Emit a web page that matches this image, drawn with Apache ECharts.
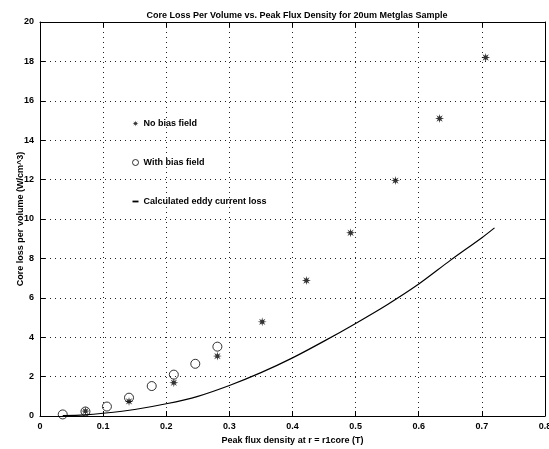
<!DOCTYPE html>
<html>
<head>
<meta charset="utf-8">
<script src="https://cdn.jsdelivr.net/npm/echarts@6/dist/echarts.min.js"></script>
<style>
  html, body { margin: 0; padding: 0; background: #fff; }
  #chart { width: 549px; height: 449px; }
</style>
</head>
<body>
<div id="chart"></div>
<script>
  // data
  var noBiasB = [0.072, 0.141, 0.212, 0.281, 0.352, 0.422, 0.492, 0.563, 0.633, 0.706];
  var noBiasLoss = [0.25, 0.74, 1.69, 3.04, 4.78, 6.88, 9.3, 11.95, 15.1, 18.2];

  var biasB = [0.036, 0.072, 0.106, 0.141, 0.177, 0.212, 0.246, 0.281];
  var biasLoss = [0.08, 0.23, 0.48, 0.93, 1.52, 2.1, 2.65, 3.52];

  var eddyB = [0.036, 0.07, 0.1, 0.15, 0.2, 0.25, 0.3, 0.35, 0.4, 0.45, 0.5, 0.55, 0.6, 0.65, 0.7, 0.72];
  var eddyLoss = [0.02, 0.06, 0.14, 0.33, 0.62, 1.0, 1.55, 2.2, 2.95, 3.8, 4.7, 5.65, 6.7, 7.9, 9.05, 9.55];

  var xTicks = [0, 0.1, 0.2, 0.3, 0.4, 0.5, 0.6, 0.7, 0.8];
  var yTicks = [0, 2, 4, 6, 8, 10, 12, 14, 16, 18, 20];

  function pairs(xs, ys) {
    var out = [];
    for (var i = 0; i < xs.length; i++) out.push([xs[i], ys[i]]);
    return out;
  }

  var starPath = 'path://M20 10 L13.7 11.53 L17.07 17.07 L11.53 13.7 L10 20 L8.47 13.7 L2.93 17.07 L6.3 11.53 L0 10 L6.3 8.47 L2.93 2.93 L8.47 6.3 L10 0 L11.53 6.3 L17.07 2.93 L13.7 8.47 Z';
  var dashPath = 'path://M0 0 H10 V3 H0 Z';
  var font = 'Liberation Sans';
  var gridLine = { show: true, lineStyle: { color: '#222', type: [1, 4], width: 1 } };

  var myChart = echarts.init(document.getElementById('chart'));

  myChart.setOption({
    animation: false,
    backgroundColor: '#fff',
    title: {
      text: 'Core Loss Per Volume vs. Peak Flux Density for 20um Metglas Sample',
      left: 292,
      textAlign: 'center',
      top: 6,
      textStyle: { fontFamily: font, fontSize: 9, fontWeight: 'bold', color: '#000' }
    },
    legend: {
      orient: 'vertical',
      left: 127,
      top: 114,
      itemGap: 30,
      itemWidth: 6,
      itemHeight: 6,
      textStyle: { fontFamily: font, fontSize: 9, fontWeight: 'bold', color: '#000' },
      data: [
        { name: 'No bias field', icon: starPath, itemStyle: { color: '#000' } },
        { name: 'With bias field', icon: 'circle', itemStyle: { color: '#fff', borderColor: '#000', borderWidth: 1 } },
        { name: 'Calculated eddy current loss', icon: dashPath, itemStyle: { color: '#000' } }
      ]
    },
    grid: { left: 40, right: 4, top: 22, bottom: 33, outerBoundsMode: 'none' },
    xAxis: [{
      type: 'value',
      min: 0, max: 0.8, interval: 0.1,
      name: 'Peak flux density at r = r1core (T)',
      nameLocation: 'middle',
      nameGap: 20,
      nameMoveOverlap: false,
      nameTextStyle: { fontFamily: font, fontSize: 9, fontWeight: 'bold', color: '#000' },
      axisLine: { onZero: false, lineStyle: { color: '#000' } },
      axisTick: { inside: true, length: 5, lineStyle: { color: '#000' } },
      axisLabel: {
        fontFamily: font, fontSize: 9, fontWeight: 'bold', color: '#000', margin: 6,
        formatter: function (v) { return String(Math.round(v * 10) / 10); }
      },
      splitLine: gridLine
    }, {
      type: 'value', position: 'top',
      min: 0, max: 0.8, interval: 0.1,
      axisLine: { show: true, onZero: false, lineStyle: { color: '#000' } },
      axisTick: { inside: true, length: 5, lineStyle: { color: '#000' } },
      axisLabel: { show: false },
      splitLine: { show: false }
    }],
    yAxis: [{
      type: 'value',
      min: 0, max: 20, interval: 2,
      name: 'Core loss per volume (W/cm^3)',
      nameLocation: 'middle',
      nameGap: 15,
      nameMoveOverlap: false,
      nameTextStyle: { fontFamily: font, fontSize: 9, fontWeight: 'bold', color: '#000' },
      axisLine: { show: true, onZero: false, lineStyle: { color: '#000' } },
      axisTick: { inside: true, length: 5, lineStyle: { color: '#000' } },
      axisLabel: { fontFamily: font, fontSize: 9, fontWeight: 'bold', color: '#000', margin: 6 },
      splitLine: gridLine
    }, {
      type: 'value', position: 'right',
      min: 0, max: 20, interval: 2,
      axisLine: { show: true, onZero: false, lineStyle: { color: '#000' } },
      axisTick: { inside: true, length: 5, lineStyle: { color: '#000' } },
      axisLabel: { show: false },
      splitLine: { show: false }
    }],
    series: [
      {
        name: 'No bias field',
        type: 'scatter',
        symbol: starPath,
        symbolSize: 9,
        itemStyle: { color: '#000' },
        data: pairs(noBiasB, noBiasLoss)
      },
      {
        name: 'With bias field',
        type: 'scatter',
        symbol: 'circle',
        symbolSize: 9,
        itemStyle: { color: 'rgba(255,255,255,0)', borderColor: '#000', borderWidth: 1 },
        data: pairs(biasB, biasLoss)
      },
      {
        name: 'Calculated eddy current loss',
        type: 'line',
        showSymbol: false,
        symbol: 'none',
        smooth: 0.3,
        lineStyle: { color: '#000', width: 1.2 },
        itemStyle: { color: '#000' },
        data: pairs(eddyB, eddyLoss)
      }
    ]
  });
</script>
</body>
</html>
